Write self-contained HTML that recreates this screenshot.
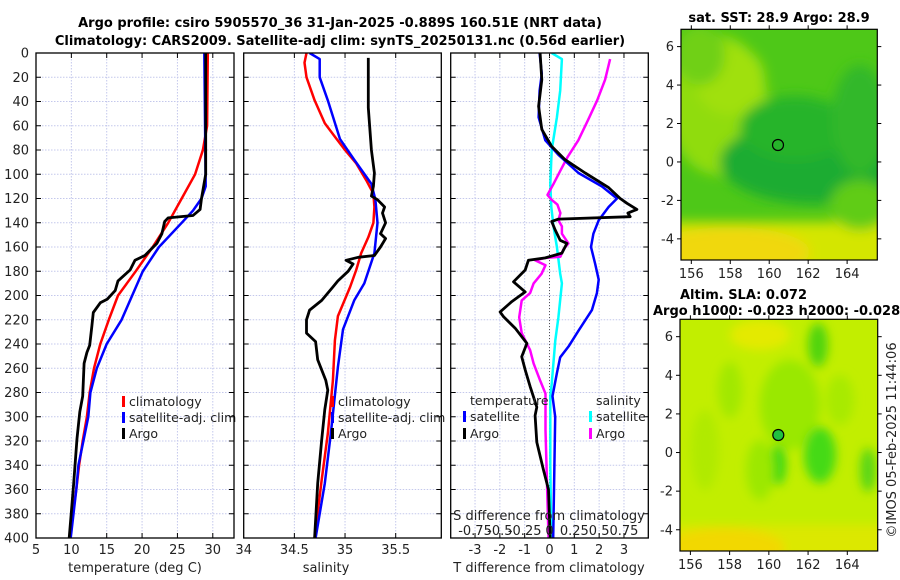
<!DOCTYPE html>
<html><head><meta charset="utf-8"><style>
html,body{margin:0;padding:0;background:#fff;width:900px;height:580px;overflow:hidden}
svg{display:block;font-family:"DejaVu Sans","Liberation Sans",sans-serif}
</style></head><body>
<svg id="fig" width="900" height="580" viewBox="0 0 900 580">
<defs>
<clipPath id="cp1"><rect x="36" y="53" width="206" height="485"/></clipPath>
<clipPath id="cp2"><rect x="243.7" y="53" width="206" height="485"/></clipPath>
<clipPath id="cp3"><rect x="450.7" y="53" width="197.6" height="485"/></clipPath>
<clipPath id="cpm1"><rect x="681" y="29.3" width="196.3" height="230.7"/></clipPath>
<clipPath id="cpm2"><rect x="680" y="319.3" width="197.7" height="231.7"/></clipPath>
<filter id="bl1" x="-20%" y="-20%" width="140%" height="140%"><feGaussianBlur stdDeviation="6"/></filter>
<filter id="bl2" x="-20%" y="-20%" width="140%" height="140%"><feGaussianBlur stdDeviation="5"/></filter>
</defs>
<text x="340" y="27" text-anchor="middle" font-size="13" font-weight="bold">Argo profile: csiro 5905570_36 31-Jan-2025 -0.889S 160.51E (NRT data)</text>
<text x="340" y="45" text-anchor="middle" font-size="13" font-weight="bold">Climatology: CARS2009. Satellite-adj clim: synTS_20250131.nc (0.56d earlier)</text>
<g id="plots"></g>
<!-- Map 1 -->
<g>
<text x="779" y="22" text-anchor="middle" font-size="13" font-weight="bold">sat. SST: 28.9 Argo: 28.9</text>
<g clip-path="url(#cpm1)">
<rect x="681" y="29.3" width="197" height="231" fill="#4ec818"/>
<g filter="url(#bl1)">
<ellipse cx="718" cy="105" rx="50" ry="70" fill="#90dc10"/>
<ellipse cx="730" cy="80" rx="35" ry="35" fill="#a0e00e"/>
<ellipse cx="700" cy="55" rx="25" ry="30" fill="#70d014"/>
<ellipse cx="815" cy="162" rx="95" ry="42" fill="#1eac30"/>
<ellipse cx="795" cy="128" rx="55" ry="32" fill="#28b42c"/>
<ellipse cx="860" cy="120" rx="28" ry="55" fill="#30b82a"/>
<rect x="660" y="222" width="240" height="60" fill="#d4e600"/>
<ellipse cx="730" cy="252" rx="80" ry="25" fill="#f0d808"/>
<ellipse cx="860" cy="205" rx="30" ry="25" fill="#60cc16"/>
</g>
</g>
<rect x="681" y="29.3" width="196.3" height="230.7" fill="none" stroke="#000" stroke-width="1.2"/>
<circle cx="778" cy="145" r="5.5" fill="none" stroke="#000" stroke-width="1.2"/>
<g id="m1ticks"></g>
</g>
<!-- Map 2 -->
<g>
<text x="680" y="299" font-size="13" font-weight="bold">Altim. SLA: 0.072</text>
<text x="653" y="315" font-size="13" font-weight="bold">Argo h1000: -0.023 h2000: -0.028</text>
<g clip-path="url(#cpm2)">
<rect x="680" y="319" width="198" height="232" fill="#c2ee00"/>
<g filter="url(#bl2)">
<ellipse cx="705" cy="450" rx="14" ry="40" fill="#b0ea00"/>
<ellipse cx="730" cy="390" rx="12" ry="28" fill="#a2e806"/>
<ellipse cx="790" cy="405" rx="30" ry="45" fill="#9ae806"/>
<ellipse cx="778" cy="465" rx="8" ry="20" fill="#38d818"/>
<ellipse cx="820" cy="455" rx="16" ry="28" fill="#44da12"/>
<ellipse cx="818" cy="345" rx="10" ry="22" fill="#50d410"/>
<ellipse cx="868" cy="470" rx="8" ry="22" fill="#58d612"/>
<ellipse cx="760" cy="470" rx="14" ry="30" fill="#9ce806"/>
<ellipse cx="840" cy="400" rx="14" ry="25" fill="#a8ea04"/>
<ellipse cx="760" cy="335" rx="30" ry="15" fill="#e4ea00"/>
<rect x="660" y="525" width="240" height="40" fill="#dce800"/>
<ellipse cx="725" cy="548" rx="60" ry="20" fill="#f2d800"/>
</g>
</g>
<rect x="680" y="319.3" width="197.7" height="231.7" fill="none" stroke="#000" stroke-width="1.2"/>
<circle cx="778.3" cy="435" r="5.5" fill="#20c040" stroke="#000" stroke-width="1.2"/>
<g id="m2ticks"></g>
</g>
<text transform="translate(896,440) rotate(-90)" text-anchor="middle" font-size="13" fill="#222">©IMOS 05-Feb-2025 11:44:06</text>
</svg>
<script>
// ---------- data ----------
const depthTicks = [0,20,40,60,80,100,120,140,160,180,200,220,240,260,280,300,320,340,360,380,400];
const tempTicks = [5,10,15,20,25,30];
const salTicks = [34.5,35,35.5];
const salTickLabels = ["34.5","35","35.5"];
const diffTicks = [-3,-2,-1,0,1,2,3];
const sdiffTicks = [-0.75,-0.5,-0.25,0,0.25,0.5,0.75];
const sdiffTickLabels = ["-0.75","-0.5","-0.25","0","0.25","0.5","0.75"];

const tClimDepth = [0,60,80,100,120,140,160,180,200,220,240,260,280,300,320,340,360,380,400];
const tClim      = [29.3,29.2,28.6,27.5,25.6,23.7,21.5,19.1,16.6,15.3,14.1,13.2,12.6,12.2,11.6,11.1,10.7,10.2,9.7];
const tSatDepth  = [0,110,120,130,140,160,180,200,220,240,260,280,300,320,340,360,380,400];
const tSat       = [28.8,29.0,28.4,27.2,25.6,22.4,20.1,18.6,17.1,15.0,13.6,12.7,12.4,11.7,11.0,10.7,10.3,9.9];
const tArgoDepth = [0,100,120,129,134,136,139,149,157,167,171,179,188,196,203,206,214,225,241,247,256,283,296,318,357,400];
const tArgo      = [29.0,29.0,28.4,28.2,27.2,23.7,23.2,22.8,22.1,20.4,19.0,18.3,16.6,16.2,15.1,14.1,13.1,12.9,12.6,12.2,11.8,11.6,11.2,10.8,10.3,9.7];

const sClimDepth = [0,8,20,39,58,69,80,91,105,116,127,140,152,165,179,193,209,217,237,270,314,352,400];
const sClim      = [34.62,34.60,34.62,34.70,34.80,34.90,35.00,35.11,35.21,35.28,35.29,35.28,35.23,35.16,35.11,35.05,34.97,34.93,34.90,34.88,34.83,34.77,34.70];
const sSatDepth  = [0,5,20,39,71,88,108,121,140,165,190,204,228,259,314,355,400];
const sSat       = [34.65,34.75,34.75,34.83,34.95,35.09,35.26,35.30,35.32,35.29,35.19,35.09,34.98,34.93,34.86,34.80,34.71];
const sArgoDepth = [4,45,80,99,110,118,121,127,132,140,149,153,160,167,168.5,171,174,180,188,193,204,212,220,231,238,253,270,278,294,319,355,400];
const sArgo      = [35.23,35.23,35.26,35.29,35.28,35.26,35.32,35.39,35.37,35.40,35.35,35.40,35.35,35.29,35.13,35.01,35.08,35.03,34.93,34.88,34.77,34.65,34.62,34.62,34.71,34.73,34.81,34.83,34.80,34.77,34.73,34.70];

const dtSatDepth  = [0,17,31,53,72,84,99,110,120,127,138,149,160,174,187,198,212,229,242,251,264,283,300,400];
const dtSat       = [-0.40,-0.31,-0.40,-0.44,-0.17,0.36,1.17,2.11,2.72,2.38,1.98,1.77,1.67,1.84,1.98,1.91,1.71,1.17,0.77,0.43,0.30,0.12,0.23,0.15];
const dtArgoDepth = [0,22,44,63,77,88,99,111,120,124,129,132,135,137,139,146,154.5,157,165,169,171,179,188.7,197,205,213.5,217.6,227,239.5,250.5,261.4,275,292,299,321,344,360,400];
const dtArgo      = [-0.38,-0.31,-0.44,-0.31,0.09,0.63,1.44,2.38,2.85,3.12,3.52,3.16,3.25,0.36,0.09,0.23,0.43,0.70,0.50,-0.17,-0.85,-0.98,-1.45,-0.98,-1.52,-1.99,-1.85,-1.38,-0.91,-1.12,-0.98,-0.78,-0.51,-0.58,-0.51,-0.24,-0.04,0.03];
const dsSatDepth  = [0,5,31,53,80,108,127,143,160,182,190,218,237,273,283,340,400];
const dsSat       = [0.022,0.125,0.108,0.075,0.022,0.008,0.018,0.04,0.075,0.108,0.125,0.09,0.058,0.022,0.008,0.008,0.018];
const dsArgoDepth = [5,22,39,55,72,86,97,108,117,121,125,132,138,143,149,157,162,168,169,171,175,182,190,198,204,218,231,245,256,270,281,311,355,400];
const dsArgo      = [0.61,0.56,0.48,0.39,0.29,0.18,0.11,0.04,-0.02,0.02,0.08,0.11,0.09,0.125,0.125,0.19,0.14,0.11,-0.04,-0.145,-0.04,-0.08,-0.16,-0.195,-0.28,-0.305,-0.28,-0.195,-0.16,-0.095,-0.04,-0.04,-0.025,-0.01];

// ---------- layout ----------
const Y0 = 53, Y1 = 538;
const yScale = d => Y0 + d * (Y1 - Y0) / 400;
const panels = [
  {name:'temperature-panel', x0:36, x1:234, min:5, max:33},
  {name:'salinity-panel', x0:243.7, x1:441.3, min:34, max:35.95},
  {name:'difference-panel', x0:450.7, x1:648.3, min:-3.98, max:3.98}
];
const xs = panels.map(p => v => p.x0 + (v - p.min) * (p.x1 - p.x0) / (p.max - p.min));
const sdx = v => xs[2](v * 4);
const NS = 'http://www.w3.org/2000/svg';
const root = document.getElementById('plots');
function mk(tag, attrs, parent) {
  const e = document.createElementNS(NS, tag);
  for (const k in attrs) e.setAttribute(k, attrs[k]);
  (parent || root).appendChild(e);
  return e;
}
function txt(x, y, s, size, anchor, parent) {
  const t = mk('text', {x:x, y:y, 'font-size':size, 'text-anchor':anchor || 'middle', fill:'#222'}, parent);
  t.textContent = s;
  return t;
}

panels.forEach((p, i) => {
  const g = mk('g', {});
  
  
  const ticksX = i === 0 ? tempTicks : (i === 1 ? salTicks : diffTicks);
  ticksX.forEach(v => {
    const x = xs[i](v);
    const gl = mk('line', {x1:x, x2:x, y1:Y0, y2:Y1, stroke:'#c4c8ec', 'stroke-width':1, 'stroke-dasharray':'1.5,1.5'}, g);
    
    
  });
  depthTicks.forEach(d => {
    const y = yScale(d);
    if (d > 0 && d < 400) {
      const gl = mk('line', {x1:p.x0, x2:p.x1, y1:y, y2:y, stroke:'#c4c8ec', 'stroke-width':1, 'stroke-dasharray':'1.5,1.5'}, g);
      
      
    }
    mk('line', {x1:p.x0, x2:p.x0 + 5, y1:y, y2:y, stroke:'#000', 'stroke-width':1}, g);
    mk('line', {x1:p.x1 - 5, x2:p.x1, y1:y, y2:y, stroke:'#000', 'stroke-width':1}, g);
    if (i === 0) {
      const t = txt(29, y + 4.5, String(d), 13, 'end', g);
      
      
    }
  });
  ticksX.forEach(v => {
    const x = xs[i](v);
    mk('line', {x1:x, x2:x, y1:Y0, y2:Y0 + 5, stroke:'#000', 'stroke-width':1}, g);
    mk('line', {x1:x, x2:x, y1:Y1 - 5, y2:Y1, stroke:'#000', 'stroke-width':1}, g);
  });
  if (i === 0) {
    tempTicks.forEach(v => { const t = txt(xs[0](v), 554, String(v), 13, 'middle', g);   });
    const l = txt(135, 572, 'temperature (deg C)', 13, 'middle', g);
    
    
  } else if (i === 1) {
    const t0 = txt(243.7, 554, '34', 13, 'middle', g);
    
    
    salTicks.forEach((v, k) => { const t = txt(xs[1](v), 554, salTickLabels[k], 13, 'middle', g);   });
    const l = txt(326, 572, 'salinity', 13, 'middle', g);
    
    
  } else {
    diffTicks.forEach(v => { const t = txt(xs[2](v), 554, String(v), 13, 'middle', g);   });
    const l = txt(549, 572, 'T difference from climatology', 13, 'middle', g);
    
    
  }
});

function series(depths, vals, sx, color, w, name, clip) {
  const pts = vals.map((v, k) => sx(v).toFixed(1) + ',' + yScale(depths[k]).toFixed(1)).join(' ');
  const pl = mk('polyline', {points:pts, fill:'none', stroke:color, 'stroke-width':w, 'stroke-linejoin':'round', 'clip-path':'url(#' + clip + ')'});
  
  
}
const zl = mk('line', {x1:xs[2](0), x2:xs[2](0), y1:Y0, y2:Y1, stroke:'#555', 'stroke-width':1, 'stroke-dasharray':'1,2'});



series(tClimDepth, tClim, xs[0], '#ff0000', 2.5, 'temp-climatology-line', 'cp1');
series(tSatDepth, tSat, xs[0], '#0000ff', 2.5, 'temp-satellite-line', 'cp1');
series(tArgoDepth, tArgo, xs[0], '#000000', 2.8, 'temp-argo-line', 'cp1');
series(sClimDepth, sClim, xs[1], '#ff0000', 2.5, 'sal-climatology-line', 'cp2');
series(sSatDepth, sSat, xs[1], '#0000ff', 2.5, 'sal-satellite-line', 'cp2');
series(sArgoDepth, sArgo, xs[1], '#000000', 2.8, 'sal-argo-line', 'cp2');
series(dsSatDepth, dsSat, sdx, '#00ffff', 2.5, 'sdiff-satellite-line', 'cp3');
series(dsArgoDepth, dsArgo, sdx, '#ff00ff', 2.5, 'sdiff-argo-line', 'cp3');
series(dtSatDepth, dtSat, xs[2], '#0000ff', 2.5, 'tdiff-satellite-line', 'cp3');
series(dtArgoDepth, dtArgo, xs[2], '#000000', 2.8, 'tdiff-argo-line', 'cp3');

function legend(x, y, color, label, name) {
  const g = mk('g', {});
  
  
  mk('rect', {x:x, y:y - 10, width:3, height:11, fill:color}, g);
  txt(x + 7, y, label, 12.5, 'start', g);
}
legend(122, 406, '#ff0000', 'climatology', 'legend-climatology');
legend(122, 422, '#0000ff', 'satellite-adj. clim', 'legend-satellite-adj');
legend(122, 438, '#000000', 'Argo', 'legend-argo');
legend(331, 406, '#ff0000', 'climatology', 'legend-sal-climatology');
legend(331, 422, '#0000ff', 'satellite-adj. clim', 'legend-sal-satellite-adj');
legend(331, 438, '#000000', 'Argo', 'legend-sal-argo');
const lt = txt(470, 405, 'temperature', 12.5, 'start');


const ls = txt(596, 405, 'salinity', 12.5, 'start');


legend(463, 421, '#0000ff', 'satellite', 'legend-tdiff-satellite');
legend(463, 438, '#000000', 'Argo', 'legend-tdiff-argo');
legend(589, 421, '#00ffff', 'satellite', 'legend-sdiff-satellite');
legend(589, 438, '#ff00ff', 'Argo', 'legend-sdiff-argo');
const st = txt(549, 520, 'S difference from climatology', 13, 'middle');


sdiffTicks.forEach((v, k) => {
  const t = txt(sdx(v), 535, sdiffTickLabels[k], 13, 'middle');
  
  
});
panels.forEach(p => {
  const r = mk('rect', {x:p.x0, y:Y0, width:p.x1 - p.x0, height:Y1 - Y0, fill:'none', stroke:'#000', 'stroke-width':1.3});
  
  
});

const lonTicks = [156,158,160,162,164];
const latTicks = [6,4,2,0,-2,-4];
function mapAxes(gid, x0, x1, y0, y1, lonMin, lonMax, latMax, latMin) {
  const g = document.getElementById(gid);
  const lx = v => x0 + (v - lonMin) * (x1 - x0) / (lonMax - lonMin);
  const ly = v => y0 + (latMax - v) * (y1 - y0) / (latMax - latMin);
  lonTicks.forEach(v => {
    const x = lx(v);
    mk('line', {x1:x, x2:x, y1:y0 - 4, y2:y0, stroke:'#000'}, g);
    mk('line', {x1:x, x2:x, y1:y1, y2:y1 + 4, stroke:'#000'}, g);
    const t = txt(x, y1 + 18, String(v), 13, 'middle', g);
    
    
  });
  latTicks.forEach(v => {
    const y = ly(v);
    mk('line', {x1:x0 - 4, x2:x0, y1:y, y2:y, stroke:'#000'}, g);
    mk('line', {x1:x1, x2:x1 + 4, y1:y, y2:y, stroke:'#000'}, g);
    const t = txt(x0 - 7, y + 4.5, String(v), 13, 'end', g);
    
    
  });
}
mapAxes('m1ticks', 681, 877.3, 29.3, 260, 155.47, 165.55, 6.9, -5.1);
mapAxes('m2ticks', 680, 877.7, 319.3, 551, 155.47, 165.55, 6.9, -5.1);
</script>
</body></html>
